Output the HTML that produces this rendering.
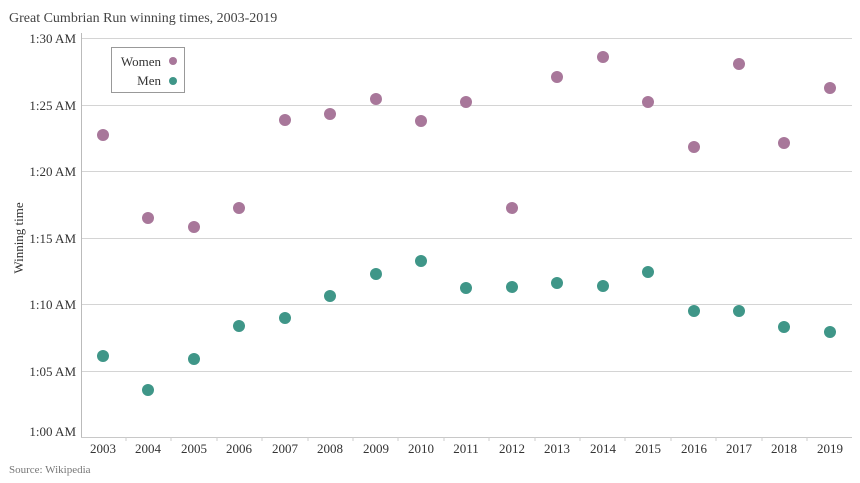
<!DOCTYPE html>
<html><head><meta charset="utf-8"><style>
html,body{margin:0;padding:0;background:#fff;}
svg{display:block;font-family:"Liberation Serif",serif;}
</style></head><body>
<svg width="860" height="483" viewBox="0 0 860 483">
<text x="9" y="22" font-size="14" fill="#444">Great Cumbrian Run winning times, 2003-2019</text>
<g stroke="#d4d4d4" stroke-width="1">
<line x1="81" y1="38.5" x2="852" y2="38.5"/>
<line x1="81" y1="105.5" x2="852" y2="105.5"/>
<line x1="81" y1="171.5" x2="852" y2="171.5"/>
<line x1="81" y1="238.5" x2="852" y2="238.5"/>
<line x1="81" y1="304.5" x2="852" y2="304.5"/>
<line x1="81" y1="371.5" x2="852" y2="371.5"/>
</g>
<line x1="81" y1="437.5" x2="852" y2="437.5" stroke="#c8c8c8"/>
<line x1="81.5" y1="33" x2="81.5" y2="437" stroke="#bbb"/>
<g stroke="#ccc">
<line x1="126" y1="437" x2="126" y2="441"/><line x1="171" y1="437" x2="171" y2="441"/><line x1="217" y1="437" x2="217" y2="441"/><line x1="262" y1="437" x2="262" y2="441"/><line x1="308" y1="437" x2="308" y2="441"/><line x1="353" y1="437" x2="353" y2="441"/><line x1="398" y1="437" x2="398" y2="441"/><line x1="444" y1="437" x2="444" y2="441"/><line x1="489" y1="437" x2="489" y2="441"/><line x1="535" y1="437" x2="535" y2="441"/><line x1="580" y1="437" x2="580" y2="441"/><line x1="625" y1="437" x2="625" y2="441"/><line x1="671" y1="437" x2="671" y2="441"/><line x1="716" y1="437" x2="716" y2="441"/><line x1="762" y1="437" x2="762" y2="441"/><line x1="807" y1="437" x2="807" y2="441"/>
</g>
<g font-size="13" fill="#333" text-anchor="end">
<text x="76" y="43">1:30 AM</text><text x="76" y="110">1:25 AM</text><text x="76" y="176">1:20 AM</text><text x="76" y="243">1:15 AM</text><text x="76" y="309">1:10 AM</text><text x="76" y="376">1:05 AM</text><text x="76" y="436">1:00 AM</text>
</g>
<text transform="translate(23,238) rotate(-90)" font-size="13" fill="#333" text-anchor="middle">Winning time</text>
<g font-size="13" fill="#333" text-anchor="middle">
<text x="103" y="453">2003</text><text x="148" y="453">2004</text><text x="194" y="453">2005</text><text x="239" y="453">2006</text><text x="285" y="453">2007</text><text x="330" y="453">2008</text><text x="376" y="453">2009</text><text x="421" y="453">2010</text><text x="466" y="453">2011</text><text x="512" y="453">2012</text><text x="557" y="453">2013</text><text x="603" y="453">2014</text><text x="648" y="453">2015</text><text x="694" y="453">2016</text><text x="739" y="453">2017</text><text x="784" y="453">2018</text><text x="830" y="453">2019</text>
</g>
<text x="9" y="473" font-size="11" fill="#777">Source: Wikipedia</text>
<g fill="#a8779a">
<circle cx="103" cy="135" r="6"/><circle cx="148" cy="218" r="6"/><circle cx="194" cy="227" r="6"/><circle cx="239" cy="208" r="6"/><circle cx="285" cy="120" r="6"/><circle cx="330" cy="114" r="6"/><circle cx="376" cy="99" r="6"/><circle cx="421" cy="121" r="6"/><circle cx="466" cy="102" r="6"/><circle cx="512" cy="208" r="6"/><circle cx="557" cy="77" r="6"/><circle cx="603" cy="57" r="6"/><circle cx="648" cy="102" r="6"/><circle cx="694" cy="147" r="6"/><circle cx="739" cy="64" r="6"/><circle cx="784" cy="143" r="6"/><circle cx="830" cy="88" r="6"/>
</g>
<g fill="#3f9688">
<circle cx="103" cy="356" r="6"/><circle cx="148" cy="390" r="6"/><circle cx="194" cy="359" r="6"/><circle cx="239" cy="326" r="6"/><circle cx="285" cy="318" r="6"/><circle cx="330" cy="296" r="6"/><circle cx="376" cy="274" r="6"/><circle cx="421" cy="261" r="6"/><circle cx="466" cy="288" r="6"/><circle cx="512" cy="287" r="6"/><circle cx="557" cy="283" r="6"/><circle cx="603" cy="286" r="6"/><circle cx="648" cy="272" r="6"/><circle cx="694" cy="311" r="6"/><circle cx="739" cy="311" r="6"/><circle cx="784" cy="327" r="6"/><circle cx="830" cy="332" r="6"/>
</g>
<rect x="111.5" y="47.5" width="73" height="45" fill="#fff" stroke="#999"/>
<text x="161" y="66" font-size="13" fill="#333" text-anchor="end">Women</text>
<text x="161" y="85" font-size="13" fill="#333" text-anchor="end">Men</text>
<circle cx="173" cy="61" r="4" fill="#a8779a"/>
<circle cx="173" cy="81" r="4" fill="#3f9688"/>
</svg>
</body></html>
